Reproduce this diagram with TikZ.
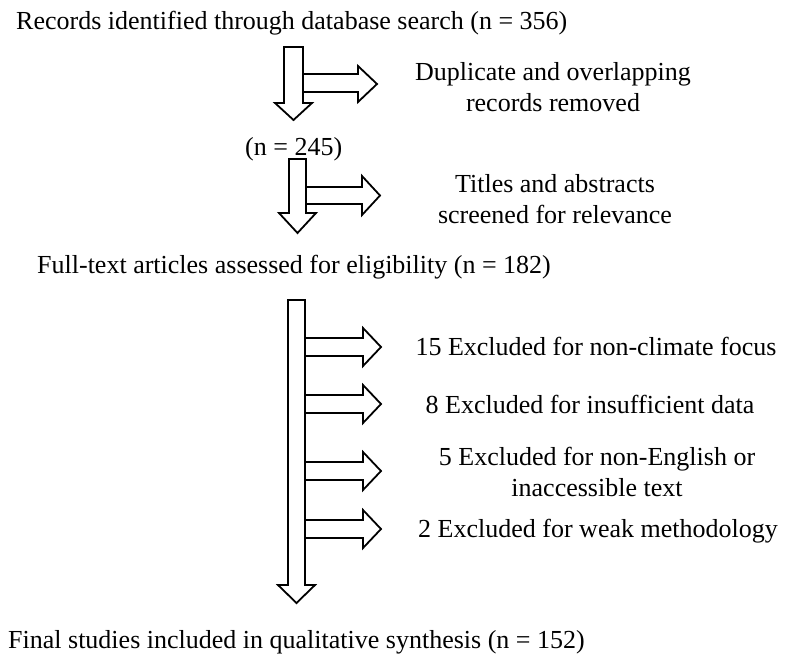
\documentclass[tikz,border=0pt]{standalone}
\usepackage{fontspec}
\setmainfont{Liberation Serif}
\usepackage{tikz}
\usetikzlibrary{positioning}

\tikzset{
    blk/.style={draw, fill=white, line width=1.8pt, line join=miter},
    txt/.style={inner sep=0pt, font=\fontsize{26}{31}\selectfont},
}

\begin{document}
\begin{tikzpicture}[x=1pt,y=1pt,yscale=-1,xscale=1]
    \path[use as bounding box] (0,0) rectangle (791,654); %set diagram to 791 by 654
    
    % Text Node
    \node [txt, anchor=base west] (records) at (16,29) {Records identified through database search (n = 356)};
    % Text Node (base = last line)
    \node [txt, anchor=base, align=center] (dupl) at (553,111) {Duplicate and overlapping\\records removed};
    % Text Node
    \node [txt, anchor=base west] (nsecond) at (245,155) {(n = 245)};
    % Text Node
    \node [txt, anchor=base, align=center] (titles) at (555,223) {Titles and abstracts\\screened for relevance};
    % Text Node
    \node [txt, anchor=base west] (fulltext) at (37,273) {Full-text articles assessed for eligibility (n = 182)};
    % Text Node
    \node [txt, anchor=base] (exclclim) at (596,355) {15 Excluded for non-climate focus};
    % Text Node
    \node [txt, anchor=base] (excldata) at (590,413) {8 Excluded for insufficient data};
    % Text Node
    \node [txt, anchor=base, align=center] (excllang) at (597,496) {5 Excluded for non-English or\\inaccessible text};
    % Text Node
    \node [txt, anchor=base] (exclmeth) at (598,537) {2 Excluded for weak methodology};
    % Text Node
    \node [txt, anchor=base west] (final) at (8,648) {Final studies included in qualitative synthesis (n = 152)};
    
    
    %Shape: Down Arrow
    \draw [blk]  (284,47) -- (303,47) -- (303,103) -- (312,103) -- (293.5,120) -- (275,103) -- (284,103) -- cycle ;
    %Shape: Right Arrow
    \draw [blk]  (303,74) -- (358,74) -- (358,66) -- (377,84) -- (358,102) -- (358,92) -- (303,92) -- cycle ;
    
    %Shape: Down Arrow
    \draw [blk]  (289,159) -- (306,159) -- (306,213) -- (316,213) -- (297.5,233) -- (279,213) -- (289,213) -- cycle ;
    %Shape: Right Arrow
    \draw [blk]  (306,187) -- (362,187) -- (362,176) -- (380,195.5) -- (362,215) -- (362,204) -- (306,204) -- cycle ;
    
    %Shape: Down Arrow
    \draw [blk]  (288,300) -- (305,300) -- (305,585) -- (315,585) -- (296.5,603) -- (278,585) -- (288,585) -- cycle ;
    %Shape: Right Arrow
    \draw [blk]  (305,338) -- (363,338) -- (363,328) -- (381,347) -- (363,366) -- (363,356) -- (305,356) -- cycle ;
    %Shape: Right Arrow
    \draw [blk]  (305,395) -- (363,395) -- (363,385) -- (381,404) -- (363,423) -- (363,413) -- (305,413) -- cycle ;
    %Shape: Right Arrow
    \draw [blk]  (305,462) -- (363,462) -- (363,452) -- (381,471) -- (363,490) -- (363,480) -- (305,480) -- cycle ;
    %Shape: Right Arrow
    \draw [blk]  (305,520) -- (363,520) -- (363,510) -- (381,529) -- (363,548) -- (363,538) -- (305,538) -- cycle ;
    
\end{tikzpicture}
\end{document}
